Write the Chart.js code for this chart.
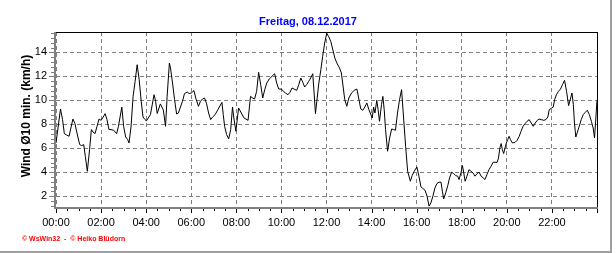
<!DOCTYPE html>
<html>
<head>
<meta charset="utf-8">
<script src="https://cdn.jsdelivr.net/npm/chart.js@4.4.1/dist/chart.umd.min.js"></script>
<style>
    body { margin: 0; background: #fff; }
    canvas { display: block; }
</style>
</head>
<body>
<canvas id="windChart" width="616" height="253"></canvas>
<script>
// Wind data, 08.12.2017 (hours of day, km/h)
const chartTitle = 'Freitag, 08.12.2017';
const yAxisTitle = 'Wind Ø10 min. (km/h)';
const footerText = '© WsWin32  -  © Heiko Blüdorn';

const xTickHours = [0, 2, 4, 6, 8, 10, 12, 14, 16, 18, 20, 22];
const xTickLabels = ['00:00', '02:00', '04:00', '06:00', '08:00', '10:00', '12:00', '14:00', '16:00', '18:00', '20:00', '22:00'];
const yTicks = [2, 4, 6, 8, 10, 12, 14];
const yMin = 1.1;
const yMax = 15.7;

const times = [
    0.00, 0.06, 0.20, 0.29, 0.37, 0.47, 0.58, 0.66, 0.75, 0.84, 0.93, 1.05, 1.14, 1.23, 1.30, 1.39, 1.49, 1.57, 1.64, 1.73,
    1.82, 1.91, 2.00, 2.07, 2.18, 2.26, 2.35, 2.44, 2.56, 2.69, 2.77, 2.92, 3.00, 3.09, 3.18, 3.24, 3.33, 3.42, 3.51, 3.60,
    3.69, 3.78, 3.86, 3.95, 4.01, 4.19, 4.35, 4.42, 4.49, 4.63, 4.76, 4.86, 4.93, 5.03, 5.08, 5.17, 5.26, 5.35, 5.43, 5.61,
    5.70, 5.82, 5.91, 6.00, 6.12, 6.20, 6.32, 6.41, 6.50, 6.59, 6.68, 6.77, 6.86, 6.95, 7.06, 7.18, 7.36, 7.42, 7.48, 7.57,
    7.66, 7.75, 7.83, 7.89, 7.98, 8.10, 8.34, 8.52, 8.63, 8.72, 8.81, 8.90, 8.99, 9.08, 9.17, 9.26, 9.35, 9.46, 9.58, 9.70,
    9.79, 9.88, 10.00, 10.09, 10.18, 10.29, 10.38, 10.47, 10.56, 10.68, 10.77, 10.86, 10.95, 11.03, 11.12, 11.21, 11.30, 11.39, 11.45, 11.51,
    11.57, 11.66, 11.75, 11.83, 11.92, 12.01, 12.10, 12.19, 12.37, 12.46, 12.58, 12.66, 12.81, 12.90, 12.99, 13.11, 13.23, 13.35, 13.52, 13.61,
    13.70, 13.79, 13.88, 14.03, 14.09, 14.15, 14.23, 14.29, 14.35, 14.44, 14.50, 14.56, 14.62, 14.71, 14.80, 14.89, 14.98, 15.06, 15.15, 15.24,
    15.33, 15.51, 15.60, 15.72, 15.80, 15.89, 16.01, 16.10, 16.19, 16.25, 16.37, 16.46, 16.55, 16.63, 16.72, 16.81, 16.90, 16.99, 17.08, 17.14,
    17.20, 17.29, 17.38, 17.46, 17.55, 17.64, 17.73, 17.82, 17.88, 17.97, 18.03, 18.09, 18.15, 18.23, 18.32, 18.41, 18.50, 18.59, 18.68, 18.77,
    18.86, 18.95, 19.03, 19.12, 19.21, 19.30, 19.39, 19.48, 19.57, 19.63, 19.69, 19.75, 19.80, 19.86, 19.92, 19.98, 20.04, 20.10, 20.16, 20.25,
    20.37, 20.46, 20.55, 20.63, 20.72, 20.81, 20.90, 20.99, 21.08, 21.17, 21.26, 21.35, 21.43, 21.52, 21.64, 21.73, 21.82, 21.88, 21.97, 22.06,
    22.12, 22.20, 22.29, 22.38, 22.47, 22.56, 22.65, 22.74, 22.83, 22.89, 22.95, 23.00, 23.06, 23.12, 23.21, 23.30, 23.39, 23.48, 23.57, 23.66,
    23.75, 23.83, 23.89, 23.95, 24.00
];

const windValues = [
    6.44, 7.28, 9.28, 8.39, 7.22, 7.11, 7.00, 7.69, 8.44, 8.06, 7.28, 6.31, 6.22, 6.31, 5.33, 4.08, 5.89, 7.56, 7.36, 7.22,
    7.83, 8.44, 8.33, 8.53, 8.89, 8.39, 7.56, 7.56, 7.50, 7.22, 7.83, 9.44, 7.83, 6.94, 6.72, 6.44, 7.83, 10.33, 11.58, 12.97,
    11.72, 9.92, 8.61, 8.39, 8.28, 8.81, 10.47, 9.92, 8.90, 9.70, 9.20, 7.83, 10.33, 13.11, 12.69, 11.44, 10.06, 8.86, 8.94, 9.92,
    10.56, 10.69, 10.56, 10.61, 10.81, 10.19, 9.50, 9.92, 10.11, 10.19, 9.72, 8.94, 8.39, 8.61, 8.81, 9.22, 9.83, 8.81, 7.83, 7.14,
    6.78, 7.56, 9.44, 8.53, 7.42, 9.36, 8.53, 8.33, 10.33, 10.19, 10.11, 10.75, 12.33, 11.31, 10.19, 10.89, 11.44, 11.78, 12.00, 12.22,
    11.44, 10.94, 10.94, 10.75, 10.61, 10.47, 10.67, 11.03, 10.94, 10.83, 11.31, 11.86, 11.50, 11.11, 11.31, 11.58, 11.86, 12.22, 10.61, 8.89,
    9.92, 11.44, 12.56, 13.67, 14.78, 15.60, 15.30, 14.92, 13.53, 13.11, 12.69, 12.28, 10.06, 9.50, 10.19, 10.61, 10.83, 10.94, 9.28, 9.17,
    9.44, 9.78, 9.22, 8.53, 9.44, 8.94, 10.00, 9.22, 8.25, 9.64, 10.33, 9.22, 7.56, 5.75, 6.86, 7.61, 7.56, 7.50, 8.94, 10.06,
    10.89, 6.17, 4.08, 3.25, 3.72, 4.08, 4.44, 3.67, 2.78, 2.69, 2.50, 2.00, 1.17, 1.44, 2.00, 2.69, 3.06, 3.17, 3.17, 2.42,
    1.78, 2.28, 2.89, 3.53, 4.00, 3.89, 3.72, 3.67, 3.39, 4.00, 4.56, 3.94, 3.25, 3.67, 4.22, 4.08, 3.94, 3.67, 3.89, 4.00,
    3.67, 3.53, 3.39, 3.81, 4.22, 4.50, 4.83, 4.83, 4.83, 5.19, 6.03, 6.39, 5.89, 5.56, 6.03, 6.44, 6.72, 7.00, 6.72, 6.44,
    6.50, 6.67, 7.00, 7.42, 7.83, 8.06, 8.25, 8.39, 8.11, 7.83, 8.11, 8.33, 8.44, 8.39, 8.33, 8.39, 8.61, 9.22, 9.33, 9.44,
    10.06, 10.47, 10.75, 10.94, 11.31, 11.67, 10.75, 9.56, 10.19, 10.61, 9.64, 8.11, 6.94, 7.28, 7.83, 8.39, 8.81, 9.00, 9.17, 8.81,
    8.25, 7.69, 6.86, 8.53, 10.00
];

// Frame, axis ticks and extra texts
const framePlugin = {
    id: 'frame',
    afterDraw(chart) {
        const ctx = chart.ctx;
        const area = chart.chartArea;
        const xs = chart.scales.x;
        const ys = chart.scales.y;
        ctx.save();

        // minor / major ticks on x axis
        ctx.fillStyle = '#000';
        for (let h = 0; h <= 24; h += 0.5) {
            const px = Math.round(xs.getPixelForValue(h));
            const len = (h % 2 === 0) ? 5 : 3;
            ctx.fillRect(px, area.bottom + 1, 1, len);
        }
        // ticks on y axis
        ctx.fillStyle = '#808080';
        for (let v = 1.2; v <= yMax; v += 0.4) {
            const py = Math.round(ys.getPixelForValue(v));
            const major = Math.abs(v - Math.round(v)) < 0.01 && Math.round(v) % 2 === 0;
            const len = major ? 5 : 3;
            ctx.fillRect(area.left - 2 - len, py, len, 1);
        }

        // top and right border
        ctx.fillStyle = '#000';
        ctx.fillRect(area.left - 2, area.top, area.right - area.left + 3, 1);
        ctx.fillRect(area.right, area.top, 1, area.bottom - area.top);
        // left and bottom axis (grey)
        ctx.fillStyle = '#808080';
        ctx.fillRect(area.left - 2, area.top, 2, area.bottom - area.top + 2);
        ctx.fillRect(area.left - 2, area.bottom, area.right - area.left + 3, 2);

        // outer grey edge
        ctx.fillStyle = '#a0a0a0';
        ctx.fillRect(610, 0, 2, 253);
        ctx.fillRect(0, 251, 612, 2);

        // title
        ctx.fillStyle = '#0000ff';
        ctx.font = 'bold 11px "Liberation Sans", Arial, sans-serif';
        ctx.textAlign = 'center';
        ctx.textBaseline = 'middle';
        ctx.fillText(chartTitle, 308, 22);

        // y axis title
        ctx.fillStyle = '#000';
        ctx.font = 'bold 12px "Liberation Sans", Arial, sans-serif';
        ctx.translate(27, 116);
        ctx.rotate(-Math.PI / 2);
        ctx.fillText(yAxisTitle, 0, 0);
        ctx.setTransform(1, 0, 0, 1, 0, 0);

        // footer
        ctx.fillStyle = '#ff0000';
        ctx.font = 'bold 7px "Liberation Sans", Arial, sans-serif';
        ctx.textAlign = 'left';
        ctx.fillText(footerText, 22, 239);

        ctx.restore();
    }
};

const points = times.map((t, i) => ({ x: t, y: windValues[i] }));

new Chart(document.getElementById('windChart'), {
    type: 'line',
    data: {
        datasets: [{
            data: points,
            borderColor: '#000',
            borderWidth: 1,
            pointRadius: 0,
            tension: 0,
            fill: false
        }]
    },
    options: {
        responsive: false,
        animation: false,
        devicePixelRatio: 1,
        layout: {
            padding: { top: 32, right: 19, bottom: 0, left: 0 }
        },
        plugins: {
            legend: { display: false },
            tooltip: { enabled: false },
            title: { display: false }
        },
        scales: {
            x: {
                type: 'linear',
                min: 0,
                max: 24,
                afterBuildTicks: scale => {
                    scale.ticks = xTickHours.map(v => ({ value: v }));
                },
                afterFit: scale => {
                    scale.height = 46;
                },
                grid: {
                    color: '#808080',
                    lineWidth: 1,
                    drawTicks: false
                },
                border: { display: false, dash: [4, 3] },
                ticks: {
                    color: '#000',
                    padding: 9,
                    maxRotation: 0,
                    autoSkip: false,
                    font: { family: '"Liberation Sans", Arial, sans-serif', size: 11 },
                    callback: (value, index) => xTickLabels[index]
                }
            },
            y: {
                min: yMin,
                max: yMax,
                afterBuildTicks: scale => {
                    scale.ticks = yTicks.map(v => ({ value: v }));
                },
                afterFit: scale => {
                    scale.width = 56;
                },
                grid: {
                    color: '#808080',
                    lineWidth: 1,
                    drawTicks: false
                },
                border: { display: false, dash: [4, 3] },
                ticks: {
                    color: '#000',
                    padding: 9,
                    font: { family: '"Liberation Sans", Arial, sans-serif', size: 11 },
                    callback: value => String(value)
                }
            }
        }
    },
    plugins: [framePlugin]
});
</script>
</body>
</html>
